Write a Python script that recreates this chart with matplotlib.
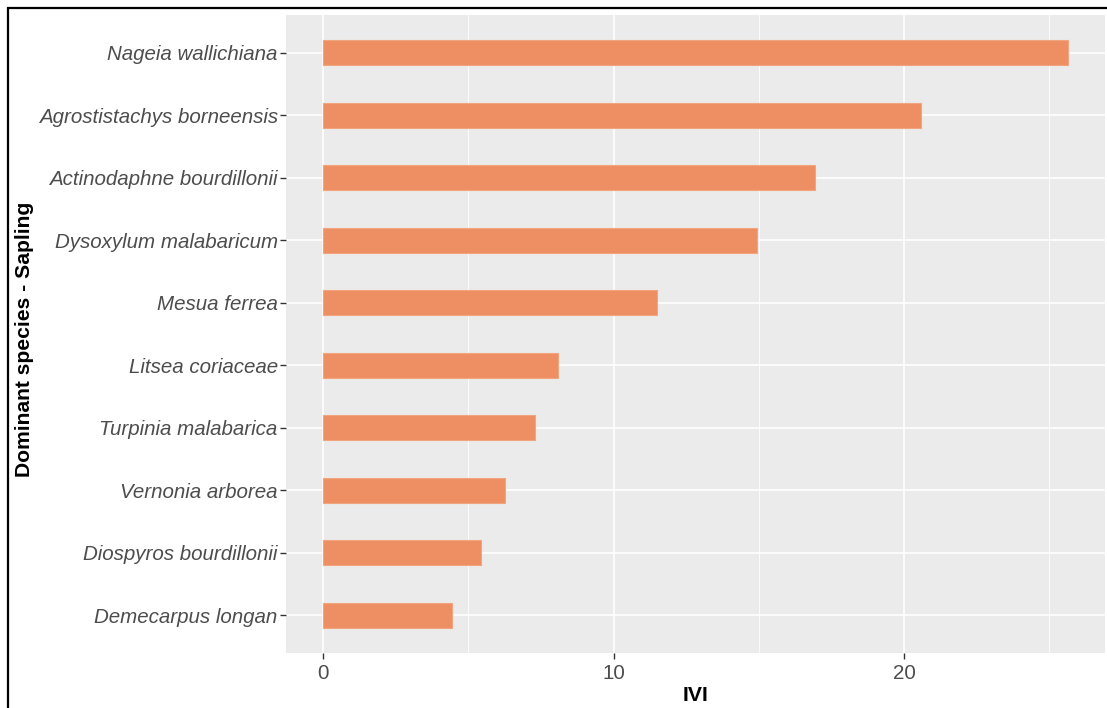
import matplotlib
matplotlib.use('Agg')
import matplotlib.pyplot as plt
from matplotlib.patches import Rectangle

plt.rcParams['font.family'] = ['Liberation Sans', 'DejaVu Sans']

species = ['Nageia wallichiana', 'Agrostistachys borneensis', 'Actinodaphne bourdillonii',
           'Dysoxylum malabaricum', 'Mesua ferrea', 'Litsea coriaceae', 'Turpinia malabarica',
           'Vernonia arborea', 'Diospyros bourdillonii', 'Demecarpus longan']
ivi = [25.64, 20.6, 16.95, 14.95, 11.5, 8.08, 7.3, 6.25, 5.43, 4.43]

bar_color = '#ED8F62'
tick_color = '#4D4D4D'

fig = plt.figure(figsize=(11.07, 7.08), dpi=100)
ax = fig.add_axes([286 / 1107, 1 - 653 / 708, (1105 - 286) / 1107, (653 - 15) / 708])
ax.set_facecolor('#EBEBEB')

# first species at top
ypos = list(range(len(species), 0, -1))
ax.barh(ypos, ivi, height=0.4, color=bar_color, edgecolor='#F2A47F', linewidth=0.8, zorder=3)

ax.set_yticks(ypos)
ax.set_yticklabels(species, fontstyle='italic', fontsize=14.8, color=tick_color)
ax.set_xticks([0, 10, 20])
ax.set_xticks([5, 15, 25], minor=True)
ax.tick_params(axis='x', labelsize=14.8, labelcolor=tick_color, pad=4)
ax.tick_params(axis='y', pad=2)
ax.tick_params(which='major', length=4, width=1, color='#333333')
ax.tick_params(which='minor', length=0)

xmax = max(ivi)
ax.set_xlim(-0.05 * xmax, xmax * 1.05)
ax.set_ylim(0.4, len(species) + 0.6)

ax.grid(True, which='major', color='white', linewidth=1.2, zorder=0)
ax.grid(True, which='minor', axis='x', color='white', linewidth=0.6, zorder=0)
ax.set_axisbelow(True)
for s in ax.spines.values():
    s.set_visible(False)

ax.set_xlabel('IVI', fontsize=15.2, fontweight='bold', color='black')
ax.set_ylabel('Dominant species - Sapling', fontsize=15.2, fontweight='bold', color='black')
ax.xaxis.set_label_coords(0.5, -0.0752)
ax.xaxis.label.set_va('baseline')
ax.yaxis.set_label_coords(-0.3126, 0.491)
ax.yaxis.label.set_va('baseline')

# outer frame (cropped at right and bottom)
fig.patches.append(Rectangle((8 / 1107, -0.05), 1.2, 1 - 8 / 708 + 0.05,
                             transform=fig.transFigure, fill=False,
                             edgecolor='black', linewidth=1.6))

fig.savefig('out.png', dpi=100)
